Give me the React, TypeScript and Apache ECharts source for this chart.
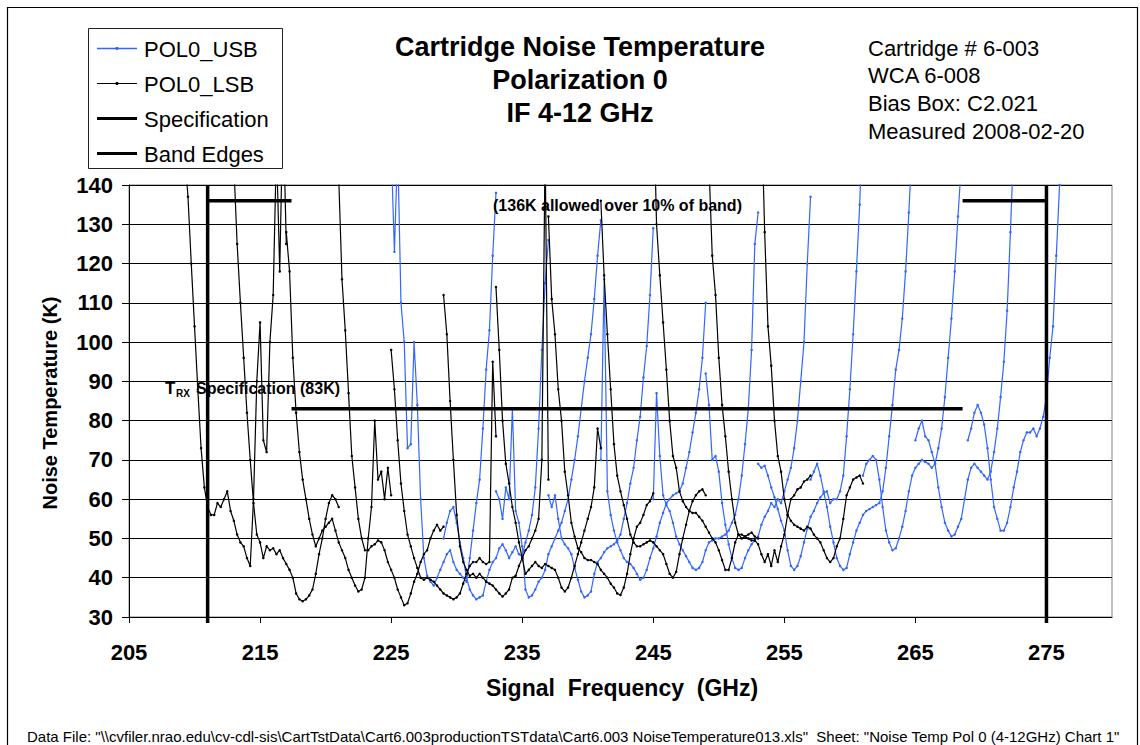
import React, { useEffect, useRef } from 'react';
import * as echarts from 'echarts';

const FONT = '"Liberation Sans", Arial, Helvetica, sans-serif';
const BLUE = '#3366ff';

// Axes
const X_MIN = 205;
const X_MAX = 280;
const X_TICKS = [205, 215, 225, 235, 245, 255, 265, 275];
const Y_MIN = 30;
const Y_MAX = 140;
const Y_STEP = 10;

// LO settings (GHz); each gives a USB trace (LO+4..LO+12) and an LSB trace (LO-12..LO-4)
const LO_LIST = [221, 225, 229, 233, 237, 241, 245, 249, 253, 257, 261, 265];
const IF_LOW = 4;
const IF_HIGH = 12;
const IF_STEP = 0.25;

// USB noise temperature (K), from LO+4 GHz upward in 0.25 GHz steps
const USB_221 = [150, 123, 150, 110, 100, 73, 74, 100, 84, 60, 45, 40.5, 39, 38, 40, 42, 44, 46, 47, 44, 42, 41, 40, 39, 45, 52, 59, 65, 78, 93, 103, 122, 138];
const USB_225 = [50, 54, 57, 58, 54, 49, 45, 40, 37, 35.5, 34.5, 35, 35.5, 39, 42, 44, 45, 47.5, 48.5, 47, 45, 46.5, 48, 46, 45.5, 49, 52, 56, 63, 78, 98, 115, 126];
const USB_229 = [62, 60, 55, 63, 60, 83, 57, 54, 48, 37, 35, 35.5, 37, 39, 40, 42, 46, 48, 50, 52, 54, 57, 60, 65, 70, 76, 83, 90, 96, 102, 111, 122, 131];
const USB_233 = [61, 58, 61, 55, 50, 48.5, 47.5, 46, 42.5, 39.5, 36.5, 35, 35.5, 36.5, 41, 44, 45, 46.5, 47.5, 48, 48.5, 49.5, 51, 55, 59, 64, 68, 75, 81, 91, 99, 112, 129];
const USB_237 = [70, 116, 62, 56, 52, 49, 47, 45, 44, 43.5, 42.5, 41, 39.5, 40, 42, 45, 47.5, 50.5, 54, 56.5, 59, 60, 61, 61.5, 62, 64, 68, 72, 77, 82, 88, 96, 110];
const USB_241 = [60, 87, 71, 61, 58.5, 57, 54, 50.5, 48.5, 47, 45.5, 44, 42.5, 42, 42.5, 44, 47, 49, 49.5, 50, 50, 50.5, 51, 52, 54, 56, 60, 66, 74, 83, 98, 125, 133];
const USB_245 = [92, 84, 70, 71, 67, 59, 53.5, 48.5, 45, 42.5, 42, 42.5, 45, 47, 48.5, 49.5, 50.5, 53.5, 55.5, 57, 59, 58, 60, 59, 62, 65, 68, 73, 80, 90, 100, 120, 137];
const USB_249 = [69, 68, 68.5, 66, 63, 60.5, 57.5, 54.5, 52, 47, 43, 42, 43, 45.5, 49, 52.5, 55.5, 57, 59, 60.5, 61.5, 62, 59, 60, 60, 62, 66, 76, 88, 102, 118, 135, 160];
const USB_253 = [65, 67, 69, 66, 62, 58, 53, 49, 45, 43, 42, 42.5, 46, 49, 52, 54, 56, 57, 57.5, 58, 58.5, 59, 62, 68, 76, 84, 93, 98, 106, 118, 133, 150, 170];
const USB_257 = [66, 69, 70, 71, 70, 65, 58, 52, 49, 47, 47.5, 50, 53, 57, 62, 66, 68, 69, 70, 69.5, 69, 68, 69, 73, 78, 86, 96, 106, 118, 132, 145, 165, 190];
const USB_261 = [75, 78, 80, 76, 75, 72, 69, 63, 58, 54, 52, 50.5, 51, 53, 55, 60, 65, 68, 69, 68, 67, 66, 65, 67, 72, 78, 86, 95, 108, 128, 150, 180, 220];
const USB_265 = [75, 78, 82, 84, 82, 79, 73, 65, 58, 55, 52, 52, 54, 58, 63, 67, 72, 75, 77, 77, 78, 76, 78, 81, 86, 96, 104, 122, 140, 165, 200, 250, 300];

// LSB noise temperature (K), from LO-12 GHz upward in 0.25 GHz steps
const LSB_221 = [165, 148, 137, 120, 104, 88, 73, 63, 58, 56, 56, 59, 58, 60, 62, 57, 54.5, 51, 49, 48, 45, 43, 60, 90, 105, 75, 72, 100, 112, 150, 118, 160, 125];
const LSB_225 = [145, 125, 110, 96, 82, 70, 59, 51, 49, 45, 48, 47, 47.5, 46, 47, 45, 43.5, 42, 40, 36, 34.5, 34, 34.5, 35.5, 37, 41, 46, 50, 55, 59, 61, 60, 58];
const LSB_229 = [128, 118, 96, 82, 72, 65, 60, 55, 51, 48, 50, 52, 53, 54, 55, 52, 49, 47, 45, 42, 40, 38, 36.5, 37, 40, 50, 58, 80, 65, 67, 60, 68, 61];
const LSB_233 = [142, 116, 103, 87, 71, 63, 55, 50, 47, 47, 48, 48.5, 49.5, 49, 47, 44, 42, 40, 37, 35, 33, 33.5, 36, 39, 41, 44, 46, 47, 50, 52, 53.5, 52, 53];
const LSB_237 = [98, 88, 75, 64, 57, 51, 48, 45, 42.5, 40, 39.5, 40, 39.5, 39, 38, 37, 36, 35.5, 35, 34.5, 35, 36, 38.5, 41, 43, 44, 44, 45, 44, 43.5, 44, 95, 76];
const LSB_241 = [112, 102, 85, 70, 56, 48, 44, 42, 40.5, 41, 40, 41, 40, 39, 38.5, 38, 37, 36, 35.2, 36, 37, 40, 40.5, 43, 45, 47, 48, 50, 52, 55, 70, 150, 65];
const LSB_245 = [114, 98, 80, 69, 64, 58, 54, 49, 45, 41, 42, 43, 44, 43, 42.5, 43.5, 43, 42.5, 42, 40, 37.5, 36.5, 37.5, 40, 43, 46, 49, 52, 55, 58, 63, 78, 73];
const LSB_249 = [132, 111, 102, 88, 80, 67, 61, 54, 50.5, 47.5, 46.5, 45, 44.5, 44.5, 44, 43.5, 42, 41, 40, 38.5, 37.5, 36, 35.6, 37.5, 41, 46, 50, 53, 54, 56, 58.5, 59.5, 61.5];
const LSB_253 = [136, 117, 102, 88, 74, 66, 62, 58.5, 55, 51, 49, 48, 48, 48.5, 49, 49.5, 49, 48, 47, 46, 43.5, 41, 40, 41.5, 46, 50, 53.5, 57, 59.5, 61, 62, 62.5, 61];
const LSB_257 = [165, 130, 117, 105, 93, 80, 71, 68, 62, 59.5, 58, 57, 56.5, 56.5, 55.5, 54.5, 53, 51.5, 50, 49, 47, 44.5, 42, 42, 45, 49, 51, 51, 50.5, 51, 51.5, 50.5, 50];
const LSB_261 = [175, 145, 122, 112, 96, 84, 76, 67, 60, 54, 51, 50, 50.5, 50, 49.5, 49.5, 48.5, 46, 44, 46, 43, 47, 44, 48, 51, 56, 60, 61, 62.5, 63, 64.5, 65, 66];
const LSB_265 = [200, 160, 128, 104, 94, 80, 71, 67, 60, 56, 54.5, 53.5, 53, 52.5, 52, 53, 52.5, 51, 50, 49, 47, 45, 44, 45, 48, 50, 55, 61, 63, 65, 65.5, 66, 64];

const USB_TRACES = [USB_221, USB_225, USB_229, USB_233, USB_237, USB_241, USB_245, USB_249, USB_253, USB_257, USB_261, USB_265];
const LSB_TRACES = [LSB_221, LSB_225, LSB_229, LSB_233, LSB_237, LSB_241, LSB_245, LSB_249, LSB_253, LSB_257, LSB_261, LSB_265];

// Specification and band edges
const BAND_EDGES = [211, 275];
const SPEC_T = 83;
const SPEC_FROM = 217.4;
const SPEC_TO = 268.6;
const ALLOWED_T = 136;

const TITLE_LINES = ['Cartridge Noise Temperature', 'Polarization 0', 'IF 4-12 GHz'];
const INFO_LINES = ['Cartridge # 6-003', 'WCA 6-008', 'Bias Box: C2.021', 'Measured 2008-02-20'];
const LEGEND_NAMES = ['POL0_USB', 'POL0_LSB', 'Specification', 'Band Edges'];
const FOOTER = String.raw`Data File: "\\cvfiler.nrao.edu\cv-cdl-sis\CartTstData\Cart6.003productionTSTdata\Cart6.003 NoiseTemperature013.xls"  Sheet: "Noise Temp Pol 0 (4-12GHz) Chart 1"`;

function buildOption() {
  const series: any[] = [];
  LO_LIST.forEach((lo, k) => {
    series.push({
      type: 'line',
      name: 'POL0_USB',
      data: USB_TRACES[k].map((v, i) => [lo + IF_LOW + i * IF_STEP, v]),
      symbol: 'circle',
      symbolSize: 2.5,
      showSymbol: true,
      lineStyle: { color: BLUE, width: 1.2 },
      itemStyle: { color: BLUE },
      clip: true,
      silent: true,
      z: 2,
    });
  });
  LO_LIST.forEach((lo, k) => {
    series.push({
      type: 'line',
      name: 'POL0_LSB',
      data: LSB_TRACES[k].map((v, i) => [lo - IF_HIGH + i * IF_STEP, v]),
      symbol: 'circle',
      symbolSize: 2.5,
      showSymbol: true,
      lineStyle: { color: '#000', width: 1.2 },
      itemStyle: { color: '#000' },
      clip: true,
      silent: true,
      z: 3,
    });
  });
  const specSegs = [
    [[SPEC_FROM, SPEC_T], [SPEC_TO, SPEC_T]],
    [[BAND_EDGES[0], ALLOWED_T], [SPEC_FROM, ALLOWED_T]],
    [[SPEC_TO, ALLOWED_T], [BAND_EDGES[1], ALLOWED_T]],
  ];
  specSegs.forEach((d) => {
    series.push({
      type: 'line', name: 'Specification', data: d, symbol: 'none',
      lineStyle: { color: '#000', width: 3.5 }, silent: true, z: 4,
    });
  });
  BAND_EDGES.forEach((f) => {
    series.push({
      type: 'line', name: 'Band Edges', data: [[f, Y_MIN - 1.5], [f, Y_MAX]], symbol: 'none',
      lineStyle: { color: '#000', width: 3.5 }, silent: true, clip: false, z: 5,
    });
  });

  const graphic: any[] = [];
  // outer frame
  graphic.push({ type: 'rect', shape: { x: 7.5, y: 7.5, width: 1130, height: 760 }, style: { fill: 'none', stroke: '#000', lineWidth: 1.2 }, silent: true });
  // title
  TITLE_LINES.forEach((t, i) => {
    graphic.push({ type: 'text', x: 580, y: 47 + i * 33, style: { text: t, font: `bold 27px ${FONT}`, fill: '#000', align: 'center', verticalAlign: 'middle' } });
  });
  // info block
  INFO_LINES.forEach((t, i) => {
    graphic.push({ type: 'text', x: 868, y: 48 + i * 27.7, style: { text: t, font: `22px ${FONT}`, fill: '#000', align: 'left', verticalAlign: 'middle' } });
  });
  // legend box
  graphic.push({ type: 'rect', shape: { x: 88.5, y: 28.5, width: 194, height: 140 }, style: { fill: '#fff', stroke: '#222', lineWidth: 1 }, z: 10 });
  const legendStyles = [
    { color: BLUE, width: 1.3, dot: true },
    { color: '#000', width: 1, dot: true },
    { color: '#000', width: 3, dot: false },
    { color: '#000', width: 3, dot: false },
  ];
  LEGEND_NAMES.forEach((n, i) => {
    const y = 48.5 + i * 35;
    const s = legendStyles[i];
    graphic.push({ type: 'line', shape: { x1: 97, y1: y, x2: 137, y2: y }, style: { stroke: s.color, lineWidth: s.width }, z: 11 });
    if (s.dot) graphic.push({ type: 'circle', shape: { cx: 117, cy: y, r: 1.6 }, style: { fill: s.color }, z: 11 });
    graphic.push({ type: 'text', x: 144, y: y + 1, style: { text: n, font: `22px ${FONT}`, fill: '#000', align: 'left', verticalAlign: 'middle' }, z: 11 });
  });
  // annotations
  graphic.push({ type: 'text', x: 493, y: 205, style: { text: '(136K allowed over 10% of band)', font: `bold 16px ${FONT}`, fill: '#000', align: 'left', verticalAlign: 'middle' }, z: 12 });
  graphic.push({ type: 'text', x: 165, y: 388, style: { text: 'T', font: `bold 17px ${FONT}`, fill: '#000', align: 'left', verticalAlign: 'middle' }, z: 12 });
  graphic.push({ type: 'text', x: 176, y: 393, style: { text: 'RX', font: `bold 10px ${FONT}`, fill: '#000', align: 'left', verticalAlign: 'middle' }, z: 12 });
  graphic.push({ type: 'text', x: 196, y: 388, style: { text: 'Specification (83K)', font: `bold 16px ${FONT}`, fill: '#000', align: 'left', verticalAlign: 'middle' }, z: 12 });
  // axis titles
  graphic.push({ type: 'text', x: 50, y: 403, rotation: Math.PI / 2, style: { text: 'Noise Temperature (K)', font: `bold 20px ${FONT}`, fill: '#000', align: 'center', verticalAlign: 'middle' } });
  graphic.push({ type: 'text', x: 622, y: 688, style: { text: 'Signal  Frequency  (GHz)', font: `bold 23px ${FONT}`, fill: '#000', align: 'center', verticalAlign: 'middle' } });
  // footer
  graphic.push({ type: 'text', x: 27, y: 736, style: { text: FOOTER, font: `15px ${FONT}`, fill: '#000', align: 'left', verticalAlign: 'middle' } });

  return {
    animation: false,
    backgroundColor: '#fff',
    textStyle: { fontFamily: FONT },
    grid: { left: 129, top: 185, width: 983, height: 432, show: true, borderColor: '#808080', borderWidth: 1, containLabel: false },
    xAxis: {
      type: 'value', min: X_MIN, max: X_MAX,
      axisLine: { show: true, onZero: false, lineStyle: { color: '#000', width: 1 } },
      axisTick: { show: true, inside: false, length: 6, customValues: X_TICKS, lineStyle: { color: '#000' } },
      axisLabel: { customValues: X_TICKS, margin: 24, fontSize: 22, fontWeight: 'bold', color: '#000', fontFamily: FONT },
      splitLine: { show: false },
    },
    yAxis: {
      type: 'value', min: Y_MIN, max: Y_MAX, interval: Y_STEP,
      axisLine: { show: true, lineStyle: { color: '#000', width: 1 } },
      axisTick: { show: true, inside: false, length: 7, lineStyle: { color: '#000' } },
      axisLabel: { margin: 16, fontSize: 22, fontWeight: 'bold', color: '#000', fontFamily: FONT },
      splitLine: { show: true, lineStyle: { color: '#000', width: 1 } },
    },
    legend: { show: false, data: LEGEND_NAMES },
    series,
    graphic,
  };
}

export default function App() {
  const ref = useRef<HTMLDivElement>(null);
  useEffect(() => {
    if (!ref.current) return;
    const chart = echarts.init(ref.current, null, { renderer: 'svg' });
    chart.setOption(buildOption() as any);
    return () => chart.dispose();
  }, []);
  return <div ref={ref} style={{ position: 'absolute', left: 0, top: 0, width: 1140, height: 745, background: '#fff' }} />;
}
